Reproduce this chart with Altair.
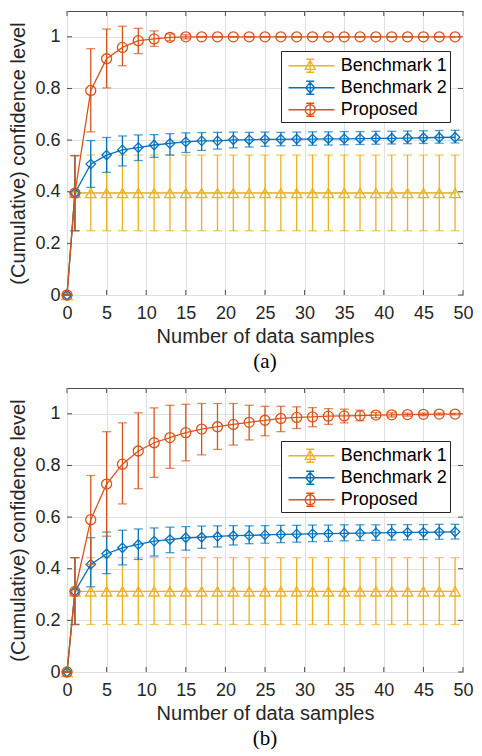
import altair as alt
import pandas as pd

# ---------------- data ----------------
X = [0, 1, 3, 5, 7, 9, 11, 13, 15, 17, 19, 21, 23, 25, 27, 29, 31, 33, 35, 37, 39, 41, 43, 45, 47, 49]
SERIES = ["Benchmark 1", "Benchmark 2", "Proposed"]
COLORS = ["#EDB120", "#0072BD", "#D95319"]

# panel (a)
A_B1_VAL = [0, 0.395, 0.395, 0.395, 0.395, 0.395, 0.395, 0.395, 0.395, 0.395, 0.395, 0.395, 0.395, 0.395, 0.395, 0.395, 0.395, 0.395, 0.395, 0.395, 0.395, 0.395, 0.395, 0.395, 0.395, 0.395]
A_B1_LO = [0, 0.249, 0.249, 0.249, 0.249, 0.249, 0.249, 0.249, 0.249, 0.249, 0.249, 0.249, 0.249, 0.249, 0.249, 0.249, 0.249, 0.249, 0.249, 0.249, 0.249, 0.249, 0.249, 0.249, 0.249, 0.249]
A_B1_HI = [0, 0.540, 0.542, 0.542, 0.542, 0.542, 0.542, 0.542, 0.542, 0.542, 0.542, 0.542, 0.542, 0.542, 0.542, 0.542, 0.542, 0.542, 0.542, 0.542, 0.542, 0.542, 0.542, 0.542, 0.542, 0.542]
A_B2_VAL = [0, 0.395, 0.507, 0.542, 0.562, 0.571, 0.581, 0.587, 0.593, 0.597, 0.597, 0.601, 0.601, 0.603, 0.603, 0.604, 0.604, 0.605, 0.605, 0.606, 0.607, 0.607, 0.608, 0.609, 0.610, 0.611]
A_B2_LO = [0, 0.249, 0.417, 0.475, 0.500, 0.521, 0.533, 0.542, 0.552, 0.560, 0.565, 0.570, 0.573, 0.576, 0.578, 0.579, 0.580, 0.581, 0.582, 0.583, 0.584, 0.585, 0.586, 0.587, 0.588, 0.589]
A_B2_HI = [0, 0.540, 0.598, 0.610, 0.616, 0.620, 0.621, 0.625, 0.628, 0.629, 0.630, 0.631, 0.630, 0.631, 0.630, 0.631, 0.632, 0.632, 0.633, 0.633, 0.634, 0.634, 0.635, 0.636, 0.637, 0.638]
A_P_VAL = [0, 0.395, 0.792, 0.915, 0.959, 0.985, 0.992, 0.998, 1.0, 1.0, 1.0, 1.0, 1.0, 1.0, 1.0, 1.0, 1.0, 1.0, 1.0, 1.0, 1.0, 1.0, 1.0, 1.0, 1.0, 1.0]
A_P_LO = [0, 0.249, 0.632, 0.802, 0.888, 0.935, 0.963, 0.985, 0.992, 1.0, 1.0, 1.0, 1.0, 1.0, 1.0, 1.0, 1.0, 1.0, 1.0, 1.0, 1.0, 1.0, 1.0, 1.0, 1.0, 1.0]
A_P_HI = [0, 0.540, 0.954, 1.030, 1.041, 1.033, 1.023, 1.011, 1.008, 1.0, 1.0, 1.0, 1.0, 1.0, 1.0, 1.0, 1.0, 1.0, 1.0, 1.0, 1.0, 1.0, 1.0, 1.0, 1.0, 1.0]

# panel (b)
B_B1_VAL = [0, 0.312, 0.312, 0.312, 0.312, 0.312, 0.312, 0.312, 0.312, 0.312, 0.312, 0.312, 0.312, 0.312, 0.312, 0.312, 0.312, 0.312, 0.312, 0.312, 0.312, 0.312, 0.312, 0.312, 0.312, 0.312]
B_B1_LO = [0, 0.184, 0.184, 0.184, 0.184, 0.184, 0.184, 0.184, 0.184, 0.184, 0.184, 0.184, 0.184, 0.184, 0.184, 0.184, 0.184, 0.184, 0.184, 0.184, 0.184, 0.184, 0.184, 0.184, 0.184, 0.184]
B_B1_HI = [0, 0.443, 0.443, 0.443, 0.443, 0.443, 0.443, 0.443, 0.443, 0.443, 0.443, 0.443, 0.443, 0.443, 0.443, 0.443, 0.443, 0.443, 0.443, 0.443, 0.443, 0.443, 0.443, 0.443, 0.443, 0.443]
B_B2_VAL = [0, 0.312, 0.417, 0.458, 0.481, 0.494, 0.507, 0.513, 0.520, 0.522, 0.525, 0.528, 0.529, 0.531, 0.533, 0.534, 0.535, 0.536, 0.537, 0.538, 0.539, 0.540, 0.541, 0.541, 0.542, 0.543]
B_B2_LO = [0, 0.184, 0.330, 0.381, 0.415, 0.436, 0.449, 0.462, 0.472, 0.479, 0.484, 0.492, 0.497, 0.499, 0.501, 0.503, 0.505, 0.506, 0.508, 0.509, 0.510, 0.511, 0.512, 0.513, 0.514, 0.515]
B_B2_HI = [0, 0.443, 0.520, 0.542, 0.549, 0.554, 0.558, 0.561, 0.563, 0.565, 0.566, 0.567, 0.566, 0.567, 0.568, 0.568, 0.569, 0.569, 0.570, 0.570, 0.570, 0.571, 0.571, 0.571, 0.572, 0.572]
B_P_VAL = [0, 0.312, 0.590, 0.728, 0.805, 0.856, 0.888, 0.908, 0.927, 0.941, 0.950, 0.959, 0.967, 0.975, 0.982, 0.986, 0.988, 0.991, 0.992, 0.993, 0.995, 0.996, 0.997, 0.998, 0.999, 0.999]
B_P_LO = [0, 0.184, 0.417, 0.526, 0.651, 0.710, 0.754, 0.789, 0.818, 0.841, 0.862, 0.879, 0.899, 0.915, 0.931, 0.943, 0.950, 0.959, 0.965, 0.973, 0.985, 0.988, 0.991, 0.993, 0.995, 0.996]
B_P_HI = [0, 0.443, 0.761, 0.931, 0.965, 1.004, 1.023, 1.033, 1.037, 1.040, 1.040, 1.040, 1.033, 1.029, 1.029, 1.027, 1.024, 1.020, 1.018, 1.014, 1.005, 1.004, 1.003, 1.003, 1.003, 1.002]

X_TICKS = [0, 5, 10, 15, 20, 25, 30, 35, 40, 45, 50]
Y_TICKS = [0, 0.2, 0.4, 0.6, 0.8, 1]

# ---------------- style ----------------
FONT = "Liberation Sans"
AX = "#262626"
W, H = 396, 284
LW = 1.3

# legend symbol paths (unit = sqrt(size)/2 px); line + errorbar + marker
LEG_SHAPES = [
    "M-0.644,0H3.444M1.284,-0.58V0.58M0.93,-0.58H1.64M0.93,0.58H1.64M1.284,-0.47L1.728,0.33L0.84,0.33Z",
    "M-0.644,0H3.444M1.284,-0.58V0.58M0.93,-0.58H1.64M0.93,0.58H1.64M1.284,-0.48L1.684,0L1.284,0.48L0.884,0Z",
    "M-0.644,0H3.444M1.284,-0.58V0.58M0.93,-0.58H1.64M0.93,0.58H1.64M0.84,0A0.444,0.444 0 1,0 1.728,0A0.444,0.444 0 1,0 0.84,0",
]
PT_SHAPES = ["triangle-up", "diamond", "circle"]
PT_SIZES = [110, 90, 100]


def make_df(vals, los, his):
    rows = []
    for s, v, lo, hi in zip(SERIES, vals, los, his):
        for xi, a, b, c in zip(X, v, lo, hi):
            rows.append({"series": s, "x": xi, "val": a, "lo": b, "hi": c})
    return pd.DataFrame(rows)


def xenc(field):
    return alt.X(
        f"{field}:Q",
        scale=alt.Scale(domain=[0, 50], nice=False, zero=False),
        title="Number of data samples",
        axis=alt.Axis(
            values=X_TICKS, grid=True, gridColor="#e0e0e0", gridWidth=1,
            ticks=False, tickSize=0, domain=False, labelFlush=False, labelOverlap=False,
            labelFont=FONT, labelFontSize=18, labelColor=AX, labelPadding=9,
            titleFont=FONT, titleFontSize=20, titleFontWeight="normal", titleColor=AX,
            titlePadding=4,
        ),
    )


def yenc(field):
    return alt.Y(
        f"{field}:Q",
        scale=alt.Scale(domain=[0, 1.1], nice=False, zero=False),
        title="(Cumulative) confidence level",
        axis=alt.Axis(
            values=Y_TICKS, format="~g", grid=True, gridColor="#e0e0e0", gridWidth=1,
            ticks=False, tickSize=0, domain=False, labelFlush=False, labelOverlap=False,
            labelFont=FONT, labelFontSize=18, labelColor=AX, labelPadding=7,
            titleFont=FONT, titleFontSize=20, titleFontWeight="normal", titleColor=AX,
            titlePadding=6,
        ),
    )


def legend_spec(legend_y):
    return alt.Legend(
        orient="none", legendX=W - 182, legendY=legend_y, title=None, padding=2.75, rowPadding=0,
        symbolSize=506, symbolStrokeWidth=LW, symbolOpacity=1, symbolFillColor="transparent",
        labelOffset=33, labelFontSize=18, labelFont=FONT, labelColor="black",
        strokeColor=AX, fillColor="white", labelExpr="datum.label + '\u00a0\u00a0'",
    )


def panel(df, caption, legend_y):
    layers = []
    xt = pd.DataFrame({"t": X_TICKS})
    yt = pd.DataFrame({"t": Y_TICKS})
    tick_col = "#4d4d4d"
    layers.append(alt.Chart(xt).mark_rule(color=tick_col, strokeWidth=1).encode(
        x=xenc("t"), y=alt.value(H), y2=alt.value(H - 5)))
    layers.append(alt.Chart(xt).mark_rule(color=tick_col, strokeWidth=1).encode(
        x=xenc("t"), y=alt.value(0), y2=alt.value(5)))
    layers.append(alt.Chart(yt).mark_rule(color=tick_col, strokeWidth=1).encode(
        y=yenc("t"), x=alt.value(0), x2=alt.value(5)))
    layers.append(alt.Chart(yt).mark_rule(color=tick_col, strokeWidth=1).encode(
        y=yenc("t"), x=alt.value(W), x2=alt.value(W - 5)))

    base = alt.Chart(df)
    for s, col, shp, sz in zip(SERIES, COLORS, PT_SHAPES, PT_SIZES):
        d = base.transform_filter(alt.datum.series == s)
        layers.append(d.mark_rule(color=col, strokeWidth=LW).encode(
            x=xenc("x"), y=yenc("lo"), y2="hi:Q"))
        layers.append(d.mark_tick(color=col, orient="horizontal", size=9, thickness=LW).encode(
            x=xenc("x"), y=yenc("lo")))
        layers.append(d.mark_tick(color=col, orient="horizontal", size=9, thickness=LW).encode(
            x=xenc("x"), y=yenc("hi")))
        layers.append(d.mark_line(color=col, strokeWidth=LW).encode(
            x=xenc("x"), y=yenc("val")))
        layers.append(d.mark_point(color=col, shape=shp, size=sz, filled=False, strokeWidth=LW, opacity=1).encode(
            x=xenc("x"), y=yenc("val")))

    leg_df = pd.DataFrame({"name": SERIES})
    layers.append(alt.Chart(leg_df).mark_point(opacity=0, filled=False).encode(
        x=alt.value(0), y=alt.value(0),
        color=alt.Color("name:N", scale=alt.Scale(domain=SERIES, range=COLORS), legend=legend_spec(legend_y)),
        shape=alt.Shape("name:N", scale=alt.Scale(domain=SERIES, range=LEG_SHAPES), legend=legend_spec(legend_y)),
    ))

    return alt.layer(*layers).properties(
        width=W, height=H,
        title=alt.TitleParams(caption, orient="bottom", anchor="middle", font="Liberation Serif",
                              fontSize=21, fontWeight="normal", color="black", offset=5),
    )


df_a = make_df([A_B1_VAL, A_B2_VAL, A_P_VAL], [A_B1_LO, A_B2_LO, A_P_LO], [A_B1_HI, A_B2_HI, A_P_HI])
df_b = make_df([B_B1_VAL, B_B2_VAL, B_P_VAL], [B_B1_LO, B_B2_LO, B_P_LO], [B_B1_HI, B_B2_HI, B_P_HI])

chart = alt.vconcat(
    panel(df_a, "(a)", 40),
    panel(df_b, "(b)", 53),
    spacing=12,
).resolve_scale(color="independent", shape="independent").properties(
    padding={"left": 0, "top": 0, "right": 0, "bottom": 0},
    background="white",
).configure_view(stroke="#4d4d4d", strokeWidth=1)

chart.save("out.html", embed_options={"renderer": "svg", "actions": False})
